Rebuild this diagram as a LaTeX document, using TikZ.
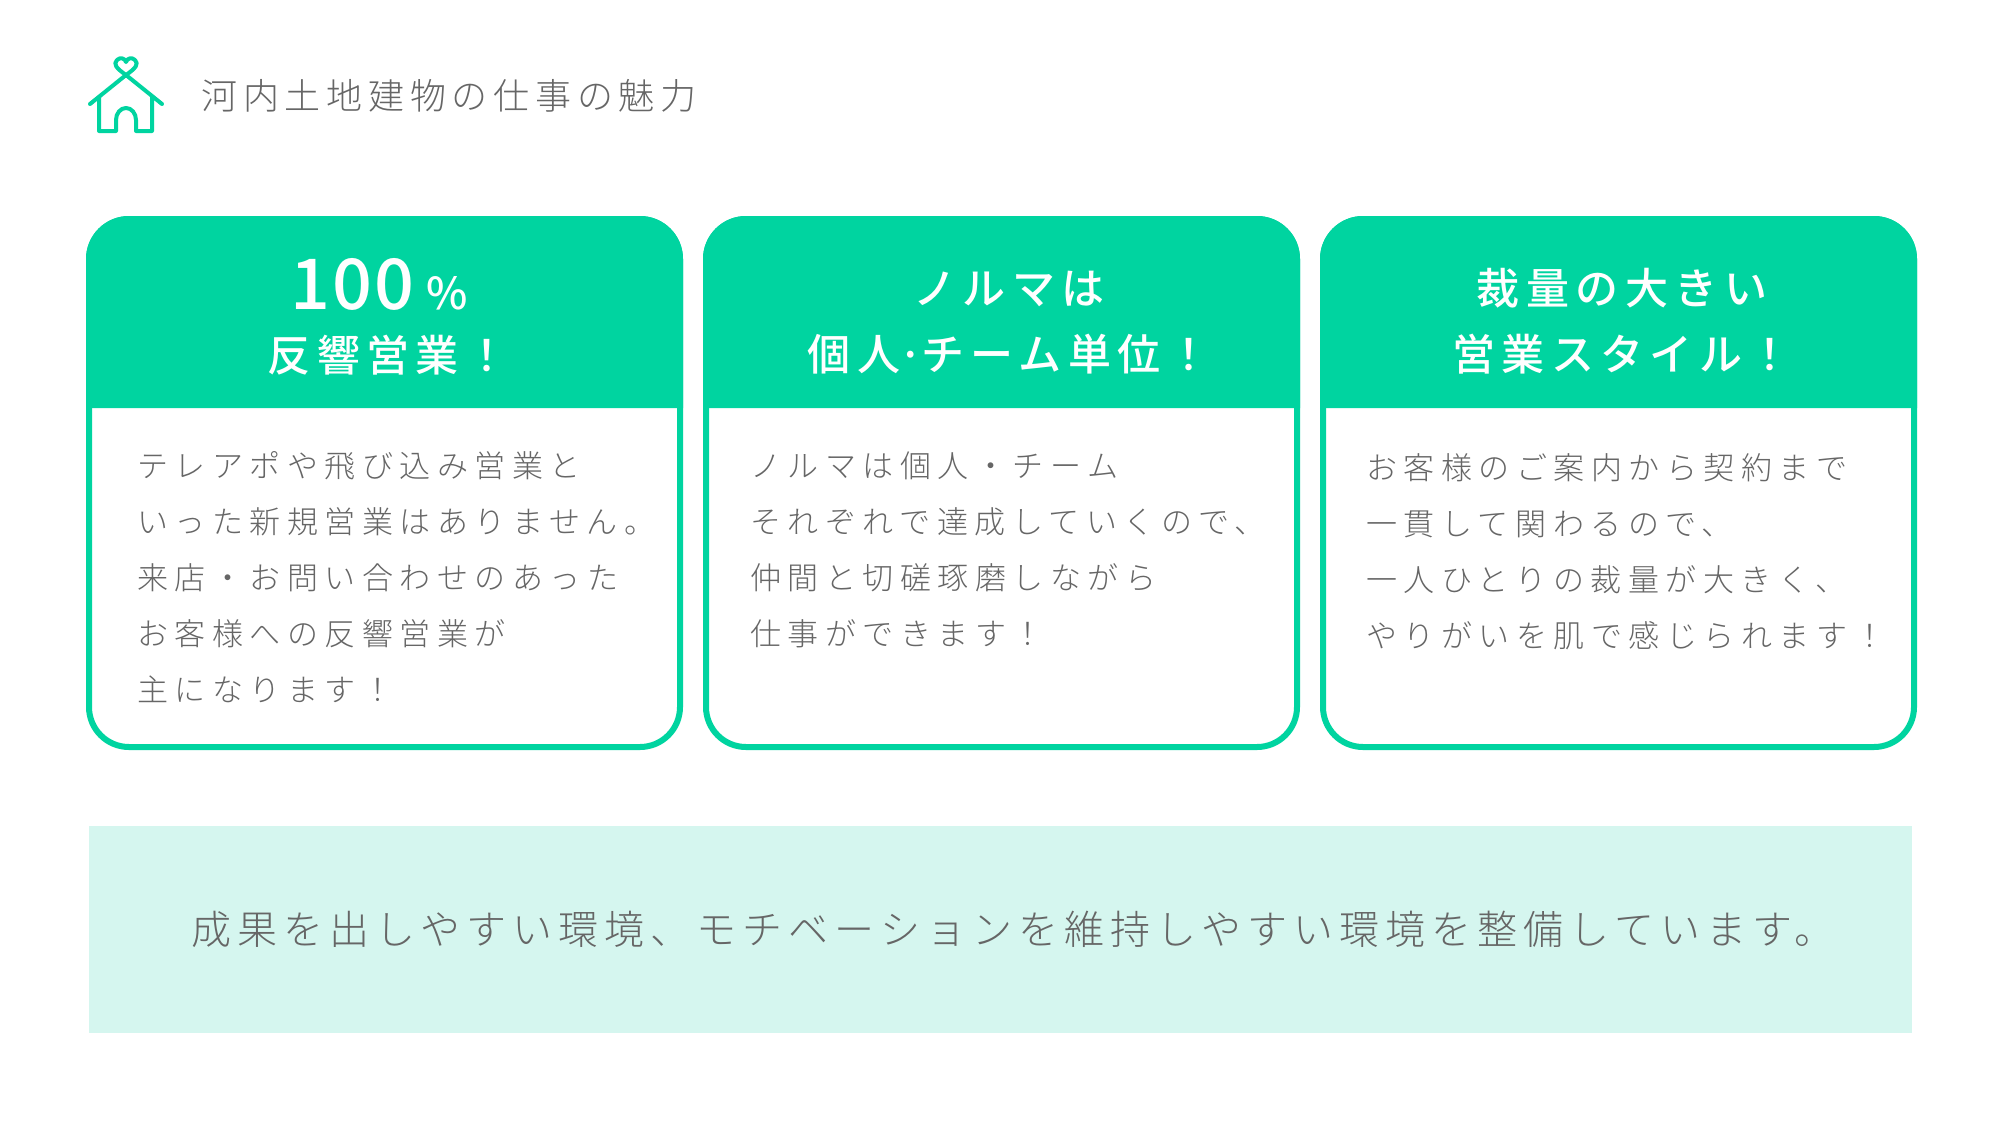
\documentclass[tikz,border=0pt]{standalone}
\usepackage{fontspec}
\setmainfont{Noto Sans CJK JP Light}[BoldFont={Noto Sans CJK JP Medium}]
\usetikzlibrary{positioning}
\definecolor{leaf}{HTML}{00D4A0}
\definecolor{mint}{HTML}{D5F6EF}
\definecolor{ink}{HTML}{666666}
\tikzset{
	card/.style={draw=leaf, line width=3pt, rounded corners=20pt, minimum width=295.5pt, minimum height=264pt, inner sep=0pt},
	headline/.style={text=white, align=center, font=\bfseries\fontsize{21.5}{33}\selectfont\addfontfeatures{LetterSpace=15}},
	body/.style={text=ink, align=left, inner sep=0pt, anchor=north west, font=\fontsize{15.5}{28}\selectfont\addfontfeatures{LetterSpace=21}},
}
\begin{document}
\begin{tikzpicture}[x=0.5pt, y=-0.5pt, node distance=10pt]
	\useasboundingbox (0,0) rectangle (2001,1125);
	\fill[white] (0,0) rectangle (2001,1125);
	% house
	\draw[leaf, line width=2pt, line cap=round, line join=round]
		(90,104) -- (126,75) -- (162,104)
		(99,97) -- (99,131) -- (116,131) -- (116,120) arc (180:360:10 and 12) -- (136,131) -- (152,131) -- (152,97)
		(126,75) .. controls (116,68) and (113,64) .. (117,60) .. controls (120,57) and (125,58) .. (126,62)
		.. controls (127,58) and (132,57) .. (135,60) .. controls (139,64) and (136,68) .. (126,75);
	\node[text=ink, anchor=west, inner sep=0pt, font=\fontsize{18}{20}\selectfont\addfontfeatures{LetterSpace=16}] (title) at (201,96) {河内土地建物の仕事の魅力};
	% cards
	\node[card, anchor=north west] (c1) at (86,216) {};
	\node[card, right=of c1] (c2) {};
	\node[card, right=of c2] (c3) {};
	\foreach \c in {c1,c2,c3}
		\fill[leaf] ([yshift=-96pt]\c.north west) [rounded corners=21.5pt] -- (\c.north west) -- (\c.north east) [sharp corners] -- ([yshift=-96pt]\c.north east) -- cycle;
	% headers
	\node[headline, font=\bfseries\fontsize{35}{35}\selectfont\addfontfeatures{LetterSpace=3}] (h1a) at (379,284) {100\,{\fontsize{22}{22}\selectfont\%}};
	\node[headline] (h1b) at (388,355) {反響営業！};
	\node[headline] (h2) at (1009,323) {ノルマは\\個人\kern-1pt·\kern-1pt チーム単位！};
	\node[headline] (h3) at (1622,321) {裁量の大きい\\営業スタイル！};
	% body
	\node[body] (t1) at (137,451) {テレアポや飛び込み営業と\\いった新規営業はありません。\\来店・お問い合わせのあった\\お客様への反響営業が\\主になります！};
	\node[body] (t2) at (750,451) {ノルマは個人・チーム\\それぞれで達成していくので、\\仲間と切磋琢磨しながら\\仕事ができます！};
	\node[body] (t3) at (1366,453) {お客様のご案内から契約まで\\一貫して関わるので、\\一人ひとりの裁量が大きく、\\やりがいを肌で感じられます！};
	% banner
	\node[fill=mint, minimum width=911.5pt, minimum height=103.5pt, anchor=north west, inner sep=0pt] (band) at (89,826) {};
	\node[text=ink, xshift=6pt, yshift=0.5pt, font=\fontsize{20}{22}\selectfont\addfontfeatures{LetterSpace=15}] (bandtext) at (band.center) {成果を出しやすい環境、モチベーションを維持しやすい環境を整備しています。};
\end{tikzpicture}
\end{document}
